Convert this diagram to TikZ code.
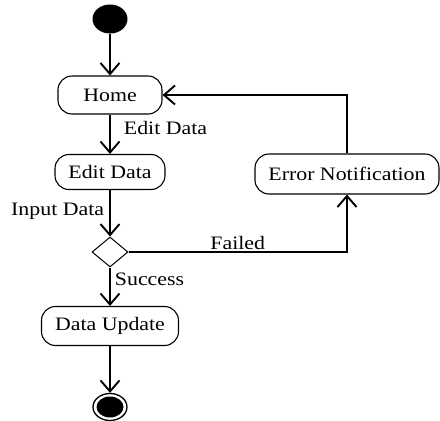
\documentclass[tikz,border=0pt]{standalone}
\usepackage{fontspec}
\setmainfont{Liberation Serif}[FakeStretch=1.15]
\usetikzlibrary{arrows.meta,shapes.geometric}

\tikzset{
  act/.style={draw, line width=1.1pt, rounded corners=14pt, inner sep=0pt,
              font=\fontsize{19}{21}\selectfont},
  lbl/.style={font=\fontsize{19}{21}\selectfont, inner sep=2pt},
  flow/.style={line width=1.9pt, -{Straight Barb[length=11pt,width=19pt]}},
  dec/.style={draw, diamond, line width=1pt, minimum width=36pt, minimum height=30pt,
              inner sep=0pt, aspect=1.2},
}

\begin{document}
\begin{tikzpicture}[x=1pt, y=-1pt]
  \useasboundingbox (0,0) rectangle (440,421);

  % initial and final states
  \node (start) [ellipse, fill=black, minimum width=35pt, minimum height=29pt, inner sep=0pt] at (110,19) {};
  \node (endo) [ellipse, draw, line width=1.3pt, minimum width=34pt, minimum height=27pt, inner sep=0pt] at (110,407) {};
  \node (endi) [ellipse, fill=black, minimum width=27pt, minimum height=21pt, inner sep=0pt] at (110,407) {};

  % activities
  \node (home)   [act, minimum width=104pt, minimum height=38pt] at (110,95)  {Home};
  \node (edit)   [act, minimum width=110pt, minimum height=35pt] at (110,172) {Edit Data};
  \node (err)    [act, minimum width=184pt, minimum height=40pt] at (347,174) {Error Notification};
  \node (update) [act, minimum width=137pt, minimum height=39pt] at (110,326) {Data Update};

  % decision
  \node (dec) [dec] at (110,252) {};

  % flows
  \draw[flow] (start) -- (home);
  \draw[flow] (home) -- node[lbl, pos=0.33, anchor=west, xshift=11pt] {Edit Data} (edit);
  \draw[flow] (edit) -- node[lbl, pos=0.45, anchor=east, xshift=-3pt] {Input Data} (dec);
  \draw[flow] (dec) -- node[lbl, pos=0.3, anchor=west, xshift=2pt] {Success} (update);
  \draw[flow] (update) -- (endo);
  \draw[flow] (dec.east) -| node[lbl, pos=0.25, anchor=south, yshift=-1pt] {Failed} (err.south);
  \draw[flow] (err.north) |- (home.east);
\end{tikzpicture}
\end{document}
